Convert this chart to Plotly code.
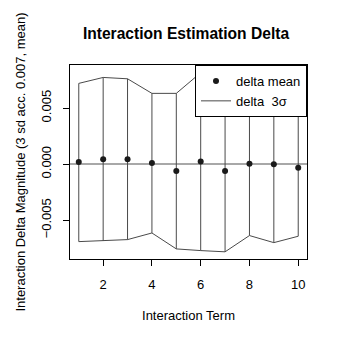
import plotly.graph_objects as go

terms = [1, 2, 3, 4, 5, 6, 7, 8, 9, 10]
delta_mean = [0.00018, 0.00044, 0.00044, 0.00009, -0.00062, 0.00023, -0.00062, 0.00003, 0.00000, -0.00033]
delta_upper = [0.00720, 0.00773, 0.00761, 0.00631, 0.00631, 0.00815, 0.00660, 0.00640, 0.00700, 0.00580]
delta_lower = [-0.00691, -0.00685, -0.00673, -0.00614, -0.00756, -0.00771, -0.00782, -0.00637, -0.00700, -0.00643]
y_ticks = [-0.005, 0.0, 0.005]
y_tick_labels = ["\u22120.005", "0.000", "0.005"]
x_ticks = [2, 4, 6, 8, 10]

FONT = "Liberation Sans, Arial, Helvetica, sans-serif"
LINE_COLOR = "#4a4a4a"

# page body has an 8px default margin; compensate so the figure sits like the reference
W = H = 333

# vertical segments
vx, vy = [], []
for t, lo, hi in zip(terms, delta_lower, delta_upper):
    vx += [t, t, None]
    vy += [lo, hi, None]

fig = go.Figure()
fig.add_trace(go.Scatter(x=vx, y=vy, mode="lines", name="delta\u00a0\u00a03\u03c3",
                         line=dict(color=LINE_COLOR, width=1), showlegend=True,
                         legendrank=2))
fig.add_trace(go.Scatter(x=terms, y=delta_upper, mode="lines", showlegend=False,
                         line=dict(color=LINE_COLOR, width=1)))
fig.add_trace(go.Scatter(x=terms, y=delta_lower, mode="lines", showlegend=False,
                         line=dict(color=LINE_COLOR, width=1)))
fig.add_trace(go.Scatter(x=terms, y=delta_mean, mode="markers", name="delta mean",
                         marker=dict(color="#1a1a1a", size=6), showlegend=True,
                         legendrank=1))

fig.update_layout(
    width=W, height=H,
    margin=dict(l=57, r=34, t=57, b=82),
    paper_bgcolor="white", plot_bgcolor="white",
    font=dict(family=FONT, size=13, color="black"),
    title=dict(text="<b>Interaction Estimation Delta</b>", x=178/W, xanchor="center",
               y=1 - 26/H, yanchor="middle", font=dict(size=15.6, family=FONT)),
    legend=dict(x=1, y=1, xanchor="right", yanchor="top", bgcolor="white",
                bordercolor="black", borderwidth=1, font=dict(size=13),
                tracegroupgap=0, itemwidth=30),
)
fig.update_xaxes(range=[0.64, 10.36], tickvals=x_ticks, ticks="outside", ticklen=6,
                 tickcolor="black", showline=True, linecolor="black", linewidth=1,
                 mirror=True, showgrid=False, zeroline=False,
                 ticklabelstandoff=7,
                 title=dict(text="Interaction Term", standoff=20, font=dict(size=13)))
fig.update_yaxes(range=[-0.00846, 0.00884], tickvals=y_ticks, ticktext=y_tick_labels,
                 ticks="outside", ticklen=6, tickcolor="black", tickangle=-90,
                 showline=True, linecolor="black", linewidth=1, mirror=True,
                 showgrid=False, zeroline=True, zerolinecolor="#a8a8a8", zerolinewidth=2,
                 ticklabelstandoff=7,
                 title=dict(text="Interaction Delta Magnitude (3 sd acc. 0.007, mean)",
                            standoff=10, font=dict(size=13)))

fig.write_html("out.html")
